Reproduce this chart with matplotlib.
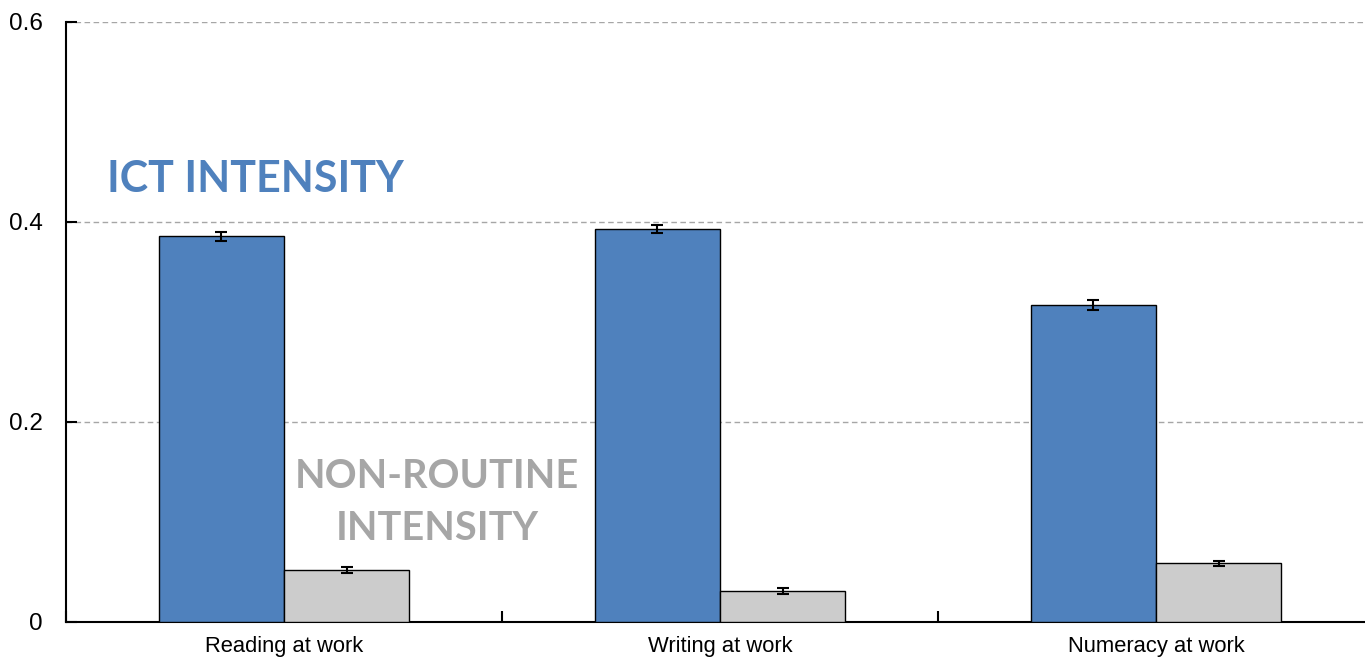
import matplotlib
matplotlib.use("Agg")
import matplotlib.pyplot as plt
import numpy as np

categories = ["Reading at work", "Writing at work", "Numeracy at work"]
ict_values = [0.386, 0.393, 0.317]
ict_errors = [0.0045, 0.004, 0.005]
nonroutine_values = [0.052, 0.031, 0.059]
nonroutine_errors = [0.0027, 0.0026, 0.0025]
y_ticks = [0, 0.2, 0.4, 0.6]
y_tick_labels = ["0", "0.2", "0.4", "0.6"]

BLUE = "#4F81BD"
GREY = "#CCCCCC"
LABEL_GREY = "#A6A6A6"

plt.rcParams["font.family"] = ["Liberation Sans", "DejaVu Sans"]

W, H = 1365, 660
fig = plt.figure(figsize=(W / 100, H / 100), dpi=100)
# axes runs slightly past the right edge of the canvas
ax = fig.add_axes([66 / W, 38 / H, 1308 / W, 600 / H])

x = np.arange(len(categories))
width = 0.287

ax.bar(x - width / 2, ict_values, width, color=BLUE, edgecolor="black",
       linewidth=1.0, zorder=3)
ax.bar(x + width / 2, nonroutine_values, width, color=GREY, edgecolor="black",
       linewidth=1.0, zorder=3)
ax.errorbar(x - width / 2, ict_values, yerr=ict_errors, fmt="none",
            ecolor="black", elinewidth=1.5, capsize=4.5, capthick=1.5, zorder=4)
ax.errorbar(x + width / 2, nonroutine_values, yerr=nonroutine_errors, fmt="none",
            ecolor="black", elinewidth=1.5, capsize=4.5, capthick=1.5, zorder=4)

ax.set_xlim(-0.5, len(categories) - 0.5)
ax.set_ylim(0, 0.6)
ax.set_yticks(y_ticks)
ax.set_yticklabels(y_tick_labels)
ax.yaxis.grid(True, color=LABEL_GREY, linestyle=(0, (4, 2.5)), linewidth=1.0, zorder=0)
ax.set_axisbelow(True)

ax.set_xticks(x)
ax.set_xticklabels(categories)
ax.set_xticks(np.arange(len(categories) + 1) - 0.5, minor=True)
ax.tick_params(axis="x", which="major", length=0, pad=10, labelsize=15.8)
ax.tick_params(axis="x", which="minor", direction="in", length=8, width=1.5)
ax.tick_params(axis="y", direction="in", length=8, width=1.5, pad=16.5, labelsize=17.5)

for side in ("top", "right"):
    ax.spines[side].set_visible(False)
for side in ("left", "bottom"):
    ax.spines[side].set_linewidth(1.5)

# series labels placed in pixel positions (top-down) on the canvas
def label(px, py, text, color, size, ha):
    fig.text(px / W, 1 - py / H, text, color=color, fontsize=size,
             fontweight="bold", family="Lato", ha=ha, va="baseline", zorder=5)

label(107, 192, "ICT INTENSITY", BLUE, 31, "left")
label(437, 488, "NON-ROUTINE", LABEL_GREY, 28.5, "center")
label(437, 540, "INTENSITY", LABEL_GREY, 28.5, "center")

fig.savefig("out.png", dpi=100)
